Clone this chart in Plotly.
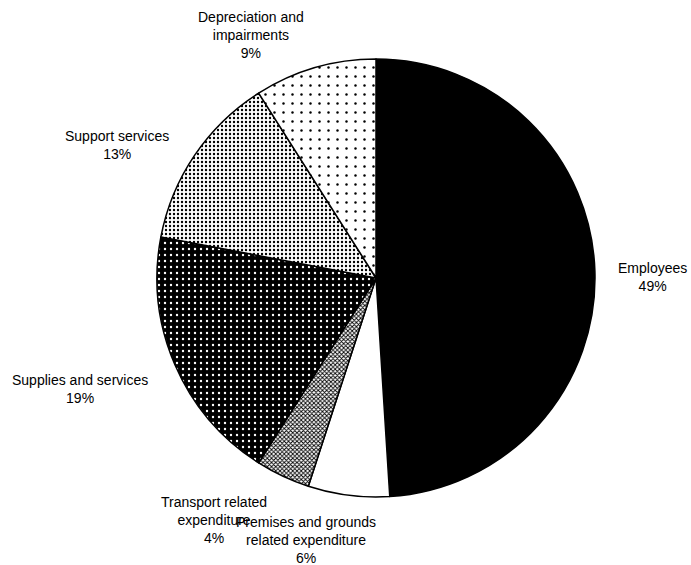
import plotly.graph_objects as go

labels = ["Employees", "Premises and grounds<br>related expenditure", "Transport related<br>expenditure",
          "Supplies and services", "Support services", "Depreciation and<br>impairments"]
values = [49, 6, 4, 19, 13, 9]

# styling
shapes = ["", "", "x", ".", ".", "."]
bgcols = ["black", "white", "white", "black", "white", "white"]
fgcols = ["black", "white", "black", "white", "black", "black"]
psizes = [8, 8, 3, 6, 4, 9]
solid = [0.3, 0.3, 0.5, 0.12, 0.28, 0.06]

# label anchor positions in pixels (layout)
label_px = [(652, 277), (306, 540), (214, 520), (80, 389), (117, 145), (251, 35)]

W, H = 691, 565
ml, mr, mt, mb = 157, 96, 59, 68
pw, ph = W - ml - mr, H - mt - mb

fig = go.Figure(go.Pie(
    labels=labels, values=values, sort=False, direction="clockwise", rotation=0,
    marker=dict(colors=bgcols, line=dict(color="black", width=1.5),
                pattern=dict(shape=shapes, bgcolor=bgcols, fgcolor=fgcols, size=psizes,
                             solidity=solid, fillmode="replace")),
    textinfo="none", showlegend=False, hoverinfo="skip",
))

for lab, val, (px, py) in zip(labels, values, label_px):
    fig.add_annotation(
        text=f"{lab}<br>{val}%", xref="paper", yref="paper",
        x=(px - ml) / pw, y=(H - mb - py) / ph, xanchor="center", yanchor="middle",
        showarrow=False, align="center",
        font=dict(family="Liberation Sans, Arial", size=14, color="black"),
    )

fig.update_layout(width=W, height=H, margin=dict(l=ml, r=mr, t=mt, b=mb),
                  paper_bgcolor="white", plot_bgcolor="white")
fig.write_html("out.html")
